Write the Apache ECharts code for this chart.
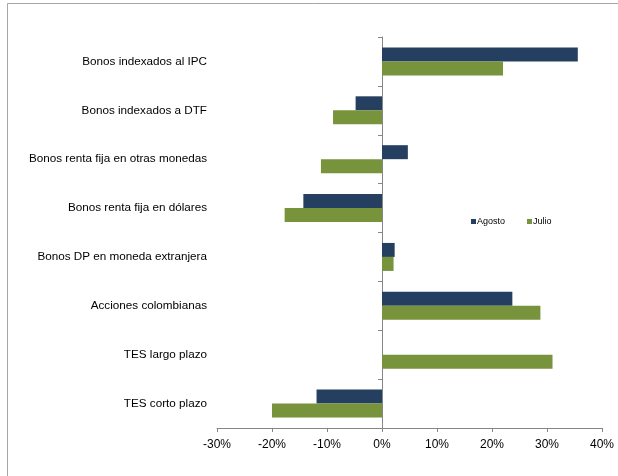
<!DOCTYPE html>
<html><head><meta charset="utf-8">
<script src="https://cdn.jsdelivr.net/npm/echarts@6/dist/echarts.min.js"></script>
<style>html,body{margin:0;padding:0;background:#fff}#c{width:618px;height:476px}</style>
</head><body><div id="c"></div>
<script>
var categories = ['Bonos indexados al IPC','Bonos indexados a DTF','Bonos renta fija en otras monedas','Bonos renta fija en dólares','Bonos DP en moneda extranjera','Acciones colombianas','TES largo plazo','TES corto plazo'];
var agosto = [35.6, -4.8, 4.7, -14.3, 2.3, 23.7, 0, -11.9];
var julio = [22.0, -8.9, -11.1, -17.7, 2.1, 28.8, 31.0, -20.0];
var seriesNames = ['Agosto','Julio'];
var xTicks = {min:-30, max:40, interval:10};

var chart = echarts.init(document.getElementById('c'), null, {renderer:'canvas'});
var font = 'Liberation Sans, Arial, sans-serif';
chart.setOption({
  animation:false,
  textStyle:{fontFamily:font},
  graphic:[{type:'rect', shape:{x:7.5,y:3.5,width:640,height:500}, style:{fill:'none',stroke:'#a6a6a6',lineWidth:1}, silent:true}],
  legend:{data:seriesNames, left:466, top:212, itemWidth:5, itemHeight:5, itemGap:22, icon:'rect',
    textStyle:{fontSize:9, color:'#000', fontFamily:font, padding:[0,0,0,-4]}},
  grid:{left:217, right:16, top:37, bottom:48, containLabel:false, outerBoundsMode:'none'},
  xAxis:{type:'value', min:xTicks.min, max:xTicks.max, interval:xTicks.interval,
    axisLine:{show:true, lineStyle:{color:'#868686'}},
    axisTick:{show:true, length:4, lineStyle:{color:'#868686'}},
    splitLine:{show:false},
    axisLabel:{formatter:function(v){return v+'%';}, fontSize:12, color:'#000', margin:11, fontFamily:font}},
  yAxis:{type:'category', data:categories, inverse:true,
    axisLine:{show:true, onZero:true, lineStyle:{color:'#868686'}},
    axisTick:{show:true, length:4, lineStyle:{color:'#868686'}},
    axisLabel:{fontSize:11.7, color:'#000', margin:10, fontFamily:font}},
  series:[
    {name:seriesNames[0], type:'bar', data:agosto, barWidth:14, barGap:'0%', itemStyle:{color:'#243F60'}},
    {name:seriesNames[1], type:'bar', data:julio, barWidth:14, barGap:'0%', itemStyle:{color:'#77933C'}}
  ]
});
</script></body></html>
